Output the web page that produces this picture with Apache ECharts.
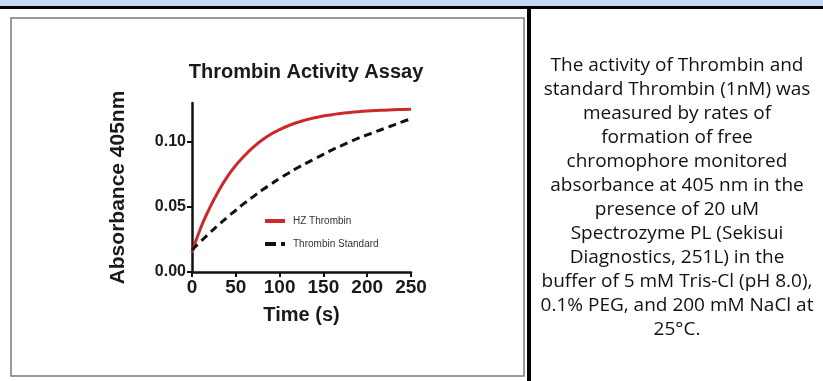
<!DOCTYPE html>
<html>
<head>
<meta charset="utf-8">
<script src="https://cdn.jsdelivr.net/npm/echarts@6/dist/echarts.min.js"></script>
<style>
html,body{margin:0;padding:0;background:#fff;}
#main{width:823px;height:381px;}
</style>
</head>
<body>
<div id="main"></div>
<script>
// time points (s)
var times = [0,10,20,30,40,50,60,70,80,90,100,110,120,130,140,150,160,170,180,190,200,210,220,230,240,250];
// absorbance
var hzThrombin = [0.015,0.034,0.049,0.062,0.073,0.082,0.0895,0.096,0.1015,0.106,0.1095,0.1125,0.115,0.117,0.1187,0.120,0.121,0.122,0.1227,0.1233,0.1238,0.1242,0.1245,0.1248,0.125,0.1252];
var thrombinStd = [0.017,0.0235,0.030,0.036,0.042,0.0475,0.053,0.058,0.063,0.0675,0.072,0.076,0.080,0.0835,0.087,0.0905,0.094,0.097,0.100,0.103,0.1055,0.108,0.1105,0.113,0.1155,0.1178];
var yTicks = [0, 0.05, 0.10];
var xTicks = [0, 50, 100, 150, 200, 250];
var seriesNames = ['HZ Thrombin', 'Thrombin Standard'];
var noteLines = [
    'The activity of Thrombin and',
    'standard Thrombin (1nM) was',
    'measured by rates of',
    'formation of free',
    'chromophore monitored',
    'absorbance at 405 nm in the',
    'presence of 20 uM',
    'Spectrozyme PL (Sekisui',
    'Diagnostics, 251L) in the',
    'buffer of 5 mM Tris-Cl (pH 8.0),',
    '0.1% PEG, and 200 mM NaCl at',
    '25\u00b0C.'
];

function pairs(ys) {
    return times.map(function (t, i) { return [t, ys[i]]; });
}

var axisFont = 'Liberation Sans, Arial, sans-serif';
var myChart = echarts.init(document.getElementById('main'));

var option = {
    backgroundColor: '#fff',
    animation: false,
    title: {
        text: 'Thrombin Activity Assay',
        left: 301,
        top: 57,
        textAlign: 'center',
        textStyle: {fontFamily: axisFont, fontSize: 20, fontWeight: 'bold', color: '#1a1a1a'}
    },
    legend: {
        orient: 'vertical',
        left: 260,
        top: 210,
        itemWidth: 20,
        itemHeight: 4,
        itemGap: 11,
        textStyle: {fontFamily: axisFont, fontSize: 10, color: '#333', lineHeight: 12, padding: [0, 0, 0, 3]},
        data: [
            {name: seriesNames[0], icon: 'rect'},
            {name: seriesNames[1], icon: 'path://M0,0 H11 V4 H0 Z M16,0 H20 V4 H16 Z'}
        ]
    },
    grid: {left: 192, top: 103, width: 219, height: 169, containLabel: false},
    xAxis: {
        type: 'value',
        min: 0,
        max: 250,
        interval: 50,
        name: 'Time (s)',
        nameLocation: 'middle',
        nameGap: 33,
        nameTextStyle: {fontFamily: axisFont, fontSize: 20, fontWeight: 'bold', color: '#1a1a1a'},
        axisLine: {lineStyle: {color: '#111', width: 2.5}},
        axisTick: {length: 5, lineStyle: {width: 2, color: '#111'}, customValues: xTicks},
        axisLabel: {fontFamily: axisFont, fontSize: 19, fontWeight: 'bold', color: '#1a1a1a', margin: 6, customValues: xTicks},
        splitLine: {show: false}
    },
    yAxis: {
        type: 'value',
        min: 0,
        max: 0.13,
        interval: 0.05,
        name: 'Absorbance 405nm',
        nameLocation: 'middle',
        nameRotate: 90,
        nameGap: 63,
        nameTextStyle: {fontFamily: axisFont, fontSize: 21, fontWeight: 'bold', color: '#1a1a1a'},
        axisLine: {show: true, lineStyle: {color: '#111', width: 2.5}},
        axisTick: {show: true, length: 5, lineStyle: {width: 2, color: '#111'}, customValues: yTicks},
        axisLabel: {
            fontFamily: axisFont, fontSize: 16, fontWeight: 'bold', color: '#1a1a1a', margin: 6,
            customValues: yTicks,
            formatter: function (v) { return v.toFixed(2); }
        },
        splitLine: {show: false}
    },
    series: [
        {
            name: seriesNames[0],
            type: 'line',
            data: pairs(hzThrombin),
            smooth: true,
            showSymbol: false,
            itemStyle: {color: '#cc2a2a'},
            lineStyle: {color: '#cc2a2a', width: 3}
        },
        {
            name: seriesNames[1],
            type: 'line',
            data: pairs(thrombinStd),
            smooth: true,
            showSymbol: false,
            itemStyle: {color: '#111'},
            lineStyle: {color: '#111', width: 3, type: [8, 5]}
        }
    ],
    graphic: [
        // top band and table rules
        {type: 'rect', shape: {x: 0, y: 0, width: 823, height: 6}, style: {fill: '#c6d9f1'}, z: -1},
        {type: 'rect', shape: {x: 0, y: 6, width: 823, height: 3}, style: {fill: '#000'}},
        {type: 'rect', shape: {x: 527, y: 6, width: 4, height: 375}, style: {fill: '#000'}},
        // picture frame
        {type: 'rect', shape: {x: 11, y: 18, width: 513, height: 358}, style: {fill: 'none', stroke: '#7a7a7a', lineWidth: 1.5}, z: -1},
        // description text
        {
            type: 'text',
            x: 677,
            y: 54,
            style: {
                text: noteLines.join('\n'),
                align: 'center',
                verticalAlign: 'top',
                font: '19px "Open Sans", sans-serif',
                lineHeight: 24,
                fill: '#111'
            }
        }
    ]
};

myChart.setOption(option);
</script>
</body>
</html>
